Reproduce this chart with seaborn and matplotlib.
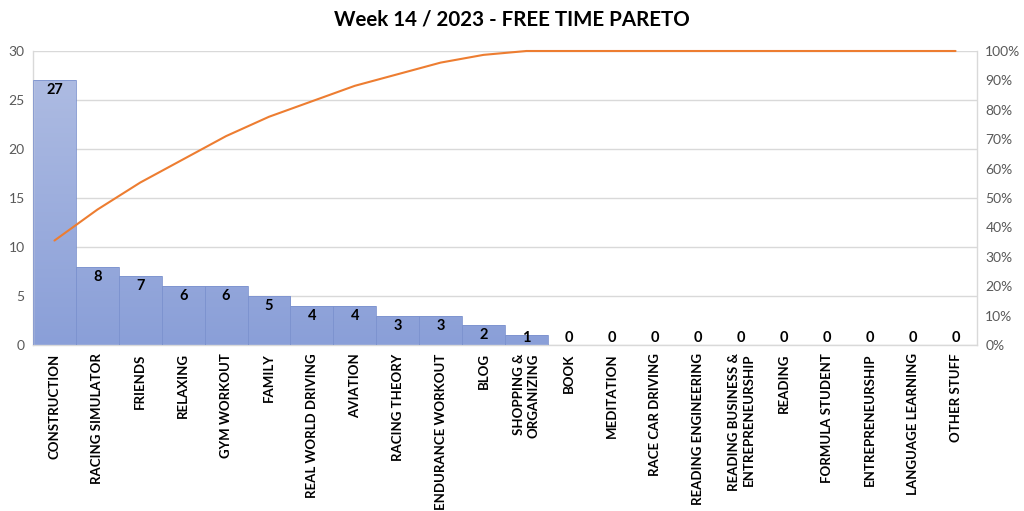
import numpy as np
import pandas as pd
import matplotlib
matplotlib.use("Agg")
import matplotlib.pyplot as plt
from matplotlib.colors import LinearSegmentedColormap
from matplotlib.ticker import PercentFormatter, MultipleLocator
import seaborn as sns

# ---- data ----
activities = [
    "CONSTRUCTION", "RACING SIMULATOR", "FRIENDS", "RELAXING", "GYM WORKOUT",
    "FAMILY", "REAL WORLD DRIVING", "AVIATION", "RACING THEORY",
    "ENDURANCE WORKOUT", "BLOG", "SHOPPING &\nORGANIZING", "BOOK", "MEDITATION",
    "RACE CAR DRIVING", "READING ENGINEERING",
    "READING BUSINESS &\nENTREPRENEURSHIP", "READING", "FORMULA STUDENT",
    "ENTREPRENEURSHIP", "LANGUAGE LEARNING", "OTHER STUFF",
]
hours = [27, 8, 7, 6, 6, 5, 4, 4, 3, 3, 2, 1, 0, 0, 0, 0, 0, 0, 0, 0, 0, 0]
title = "Week 14 / 2023 - FREE TIME PARETO"

df = pd.DataFrame({"activity": activities, "hours": hours})
df["cum_pct"] = df["hours"].cumsum() / df["hours"].sum()

sns.set_theme(style="white")
plt.rcParams["font.family"] = ["Lato", "DejaVu Sans"]

fig = plt.figure(figsize=(10.24, 5.11), dpi=100)
ax = fig.add_axes([33 / 1024, 1 - 345 / 511, (977 - 33) / 1024, (345 - 51) / 511])

sns.barplot(data=df, x="activity", y="hours", color="#8aa0d8", width=1.0,
            edgecolor="#7d93cf", linewidth=0.6, ax=ax, zorder=2)

n = len(df)
xlim = (-0.5, n - 0.5)
ylim = (0, 30)

# gradient fill (lighter toward top)
cmap = LinearSegmentedColormap.from_list("g", ["#8a9fd8", "#adbbe2"])
grad = np.linspace(1, 0, 256).reshape(-1, 1)
top = max(hours)
for p in ax.patches:
    if p.get_height() <= 0:
        continue
    im = ax.imshow(grad, extent=[xlim[0], xlim[1], 0, top], aspect="auto",
                   cmap=cmap, vmin=0, vmax=1, zorder=2, interpolation="bicubic")
    im.set_clip_path(p)
    p.set_facecolor("none")
    p.set_zorder(3)

ax.set_xlim(*xlim)
ax.set_ylim(*ylim)
ax.yaxis.set_major_locator(MultipleLocator(5))
ax.grid(axis="y", color="#d9d9d9", linewidth=1.0, zorder=0)
ax.set_axisbelow(True)
ax.set_xlabel("")
ax.set_ylabel("")
for s in ["left", "right", "bottom"]:
    ax.spines[s].set_color("#d9d9d9")
    ax.spines[s].set_linewidth(1.0)
ax.spines["top"].set_visible(False)
ax.tick_params(axis="y", length=0, labelsize=10, labelcolor="#595959", pad=6)
ax.tick_params(axis="x", length=0, pad=6)
ax.set_xticks(range(n))
ax.set_xticklabels(activities, rotation=90, fontsize=9.5, fontweight="bold",
                   color="black", va="top", ha="center", linespacing=1.3)
for t in ax.get_xticklabels():
    t.set_multialignment("right")

# value labels (inside end, kept above the axis)
px = (ylim[1] - ylim[0]) / 294.0
for i, v in enumerate(hours):
    ax.text(i, max(v - 10 * px, 7 * px), str(v), ha="center", va="center",
            fontsize=10.5, fontweight="bold", color="black", zorder=5)

# cumulative line
ax2 = ax.twinx()
sns.lineplot(x=np.arange(n), y=df["cum_pct"].values, ax=ax2, color="#ed7d31",
             linewidth=1.5, zorder=4)
for ln in ax2.lines:
    ln.set_clip_on(False)
ax2.set_ylim(0, 1)
ax2.set_xlim(*xlim)
ax2.yaxis.set_major_locator(MultipleLocator(0.1))
ax2.yaxis.set_major_formatter(PercentFormatter(1.0, decimals=0))
ax2.tick_params(axis="y", length=0, labelsize=10, labelcolor="#595959", pad=6)
for s in ax2.spines.values():
    s.set_visible(False)
ax2.grid(False)

fig.text(0.5, 1 - 19 / 511, title, ha="center", va="center", fontsize=14.8,
         fontweight="bold", color="black")

fig.savefig("out.png", dpi=100)
